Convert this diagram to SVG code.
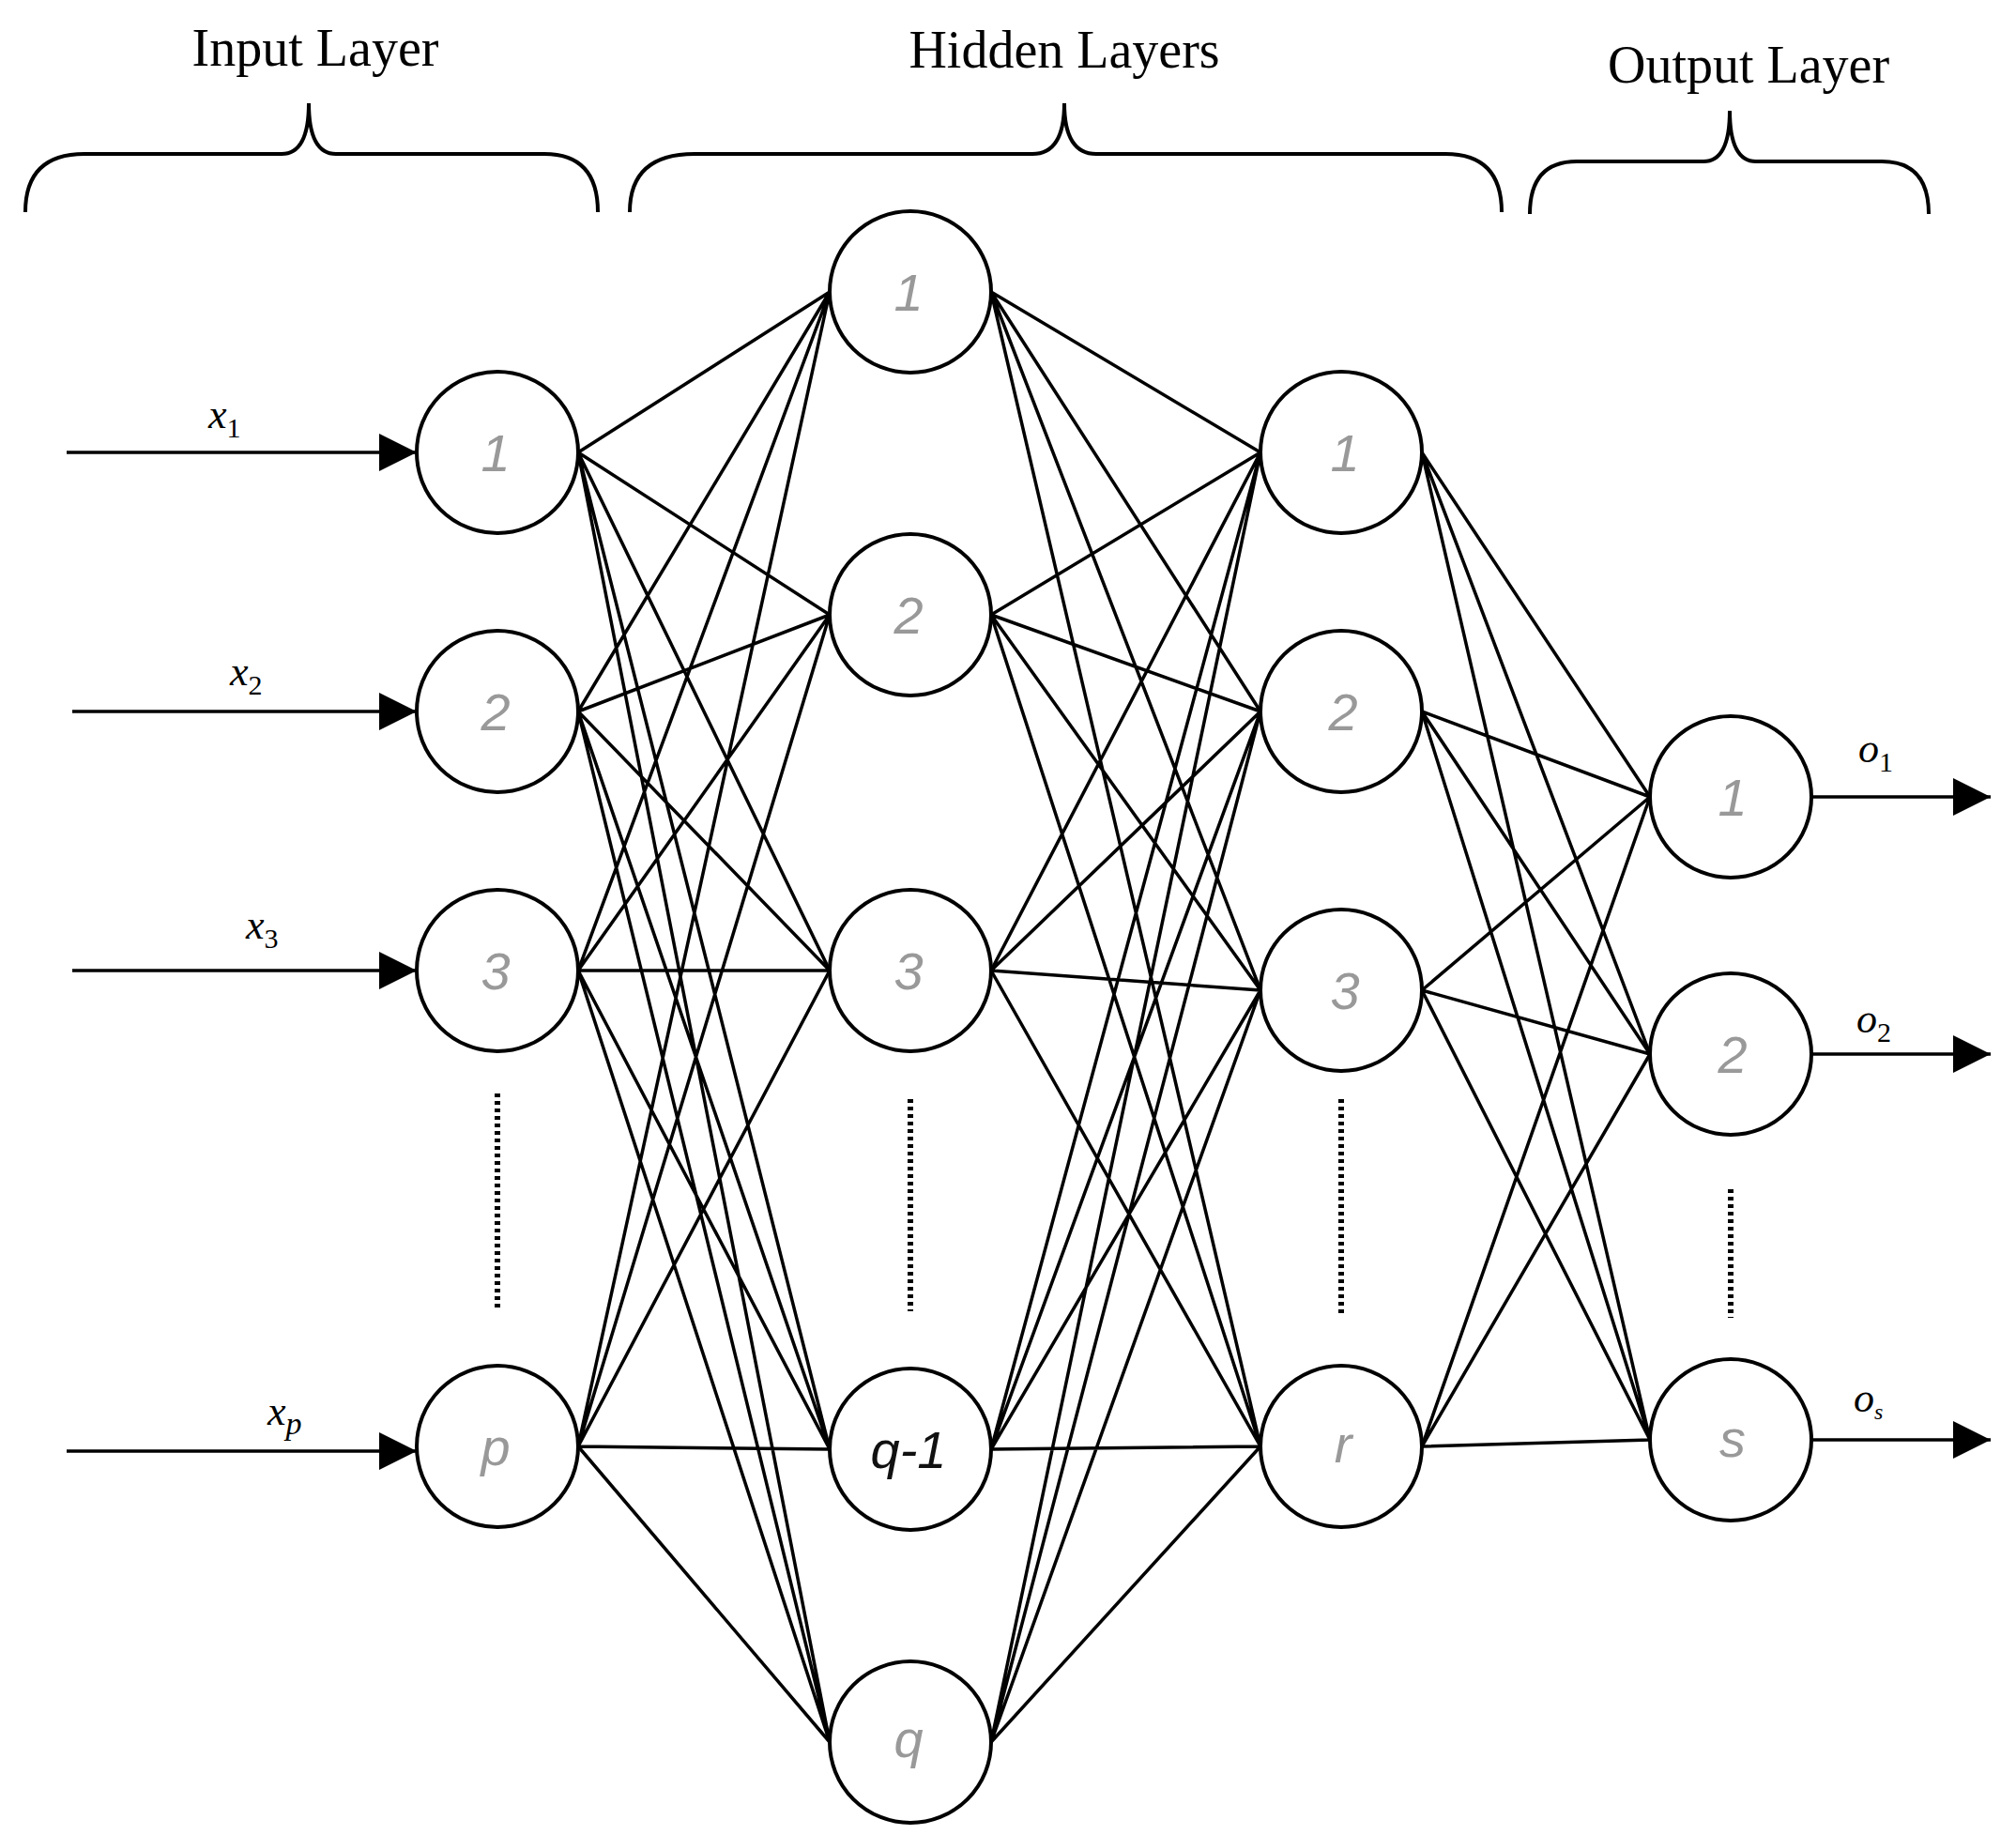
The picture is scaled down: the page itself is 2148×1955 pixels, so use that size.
<svg xmlns="http://www.w3.org/2000/svg" width="2148" height="1955" viewBox="0 0 2148 1955">
<style>
.n{fill:#fff;stroke:#000;stroke-width:4}
.e{stroke:#000;stroke-width:3.5;fill:none}
.lb{font-family:"Liberation Sans",Arial,sans-serif;font-style:italic;font-size:56px;fill:#999;text-anchor:middle}
.hd{font-family:"Liberation Serif","Times New Roman",serif;font-size:56px;fill:#000;text-anchor:middle}
.v{font-family:"Liberation Serif","Times New Roman",serif;font-style:italic;font-size:44px;fill:#000}
.d{stroke:#000;stroke-width:6;stroke-dasharray:4 4}
.b{stroke:#000;stroke-width:4;fill:none}
</style>
<defs><marker id="a" markerWidth="10" markerHeight="10" refX="9" refY="5" orient="auto" markerUnits="userSpaceOnUse" viewBox="0 0 10 10"><path d="M0,0L10,5L0,10z"/></marker>
<marker id="ar" viewBox="0 0 10 10" refX="10" refY="5" markerWidth="42" markerHeight="40" orient="auto" markerUnits="userSpaceOnUse"><path d="M0,0L10,5L0,10z"/></marker></defs>
<g id="braces">
<path class="b" d="M27,226 Q27,164 90,164 L300,164 Q329,164 329,110 Q329,164 358,164 L580,164 Q637,164 637,226"/>
<text class="hd" x="336" y="70">Input Layer</text>
<path class="b" d="M671,226 Q671,164 740,164 L1100,164 Q1134,164 1134,110 Q1134,164 1168,164 L1540,164 Q1600,164 1600,226"/>
<text class="hd" x="1134" y="72">Hidden Layers</text>
<path class="b" d="M1630,228 Q1630,172 1680,172 L1815,172 Q1843,172 1843,118 Q1843,172 1871,172 L2005,172 Q2055,172 2055,228"/>
<text class="hd" x="1863" y="88">Output Layer</text>
</g>
<g id="connectors">
<path class="e" d="M616,482L884,311M616,482L884,655M616,482L884,1034M616,482L884,1544M616,482L884,1856
M616,758L884,311M616,758L884,655M616,758L884,1034M616,758L884,1544M616,758L884,1856
M616,1034L884,311M616,1034L884,655M616,1034L884,1034M616,1034L884,1544M616,1034L884,1856
M616,1541L884,311M616,1541L884,655M616,1541L884,1034M616,1541L884,1544M616,1541L884,1856
M1056,311L1343,482M1056,311L1343,758M1056,311L1343,1055M1056,311L1343,1541
M1056,655L1343,482M1056,655L1343,758M1056,655L1343,1055M1056,655L1343,1541
M1056,1034L1343,482M1056,1034L1343,758M1056,1034L1343,1055M1056,1034L1343,1541
M1056,1544L1343,482M1056,1544L1343,758M1056,1544L1343,1055M1056,1544L1343,1541
M1056,1856L1343,482M1056,1856L1343,758M1056,1856L1343,1055M1056,1856L1343,1541
M1515,482L1758,849M1515,482L1758,1123M1515,482L1758,1534
M1515,758L1758,849M1515,758L1758,1123M1515,758L1758,1534
M1515,1055L1758,849M1515,1055L1758,1123M1515,1055L1758,1534
M1515,1541L1758,849M1515,1541L1758,1123M1515,1541L1758,1534"/>
<path class="e" marker-end="url(#ar)" d="M71,482L444,482"/>
<path class="e" marker-end="url(#ar)" d="M77,758L444,758"/>
<path class="e" marker-end="url(#ar)" d="M77,1034L444,1034"/>
<path class="e" marker-end="url(#ar)" d="M71,1546L444,1546"/>
<path class="e" marker-end="url(#ar)" d="M1930,849L2121,849"/>
<path class="e" marker-end="url(#ar)" d="M1930,1123L2121,1123"/>
<path class="e" marker-end="url(#ar)" d="M1930,1534L2121,1534"/>
<line class="d" x1="530" y1="1165" x2="530" y2="1397"/>
<line class="d" x1="970" y1="1171" x2="970" y2="1397"/>
<line class="d" x1="1429" y1="1171" x2="1429" y2="1400"/>
<line class="d" x1="1844" y1="1267" x2="1844" y2="1404"/>
</g>
<g id="labels">
<text class="v" x="222" y="456">x<tspan font-size="30" dy="10" font-style="normal">1</tspan></text>
<text class="v" x="245" y="730">x<tspan font-size="30" dy="10" font-style="normal">2</tspan></text>
<text class="v" x="262" y="1000">x<tspan font-size="30" dy="10" font-style="normal">3</tspan></text>
<text class="v" x="285" y="1518">x<tspan font-size="34" dy="10">p</tspan></text>
<text class="v" x="1980" y="812">o<tspan font-size="30" dy="10" font-style="normal">1</tspan></text>
<text class="v" x="1978" y="1100">o<tspan font-size="30" dy="10" font-style="normal">2</tspan></text>
<text class="v" x="1975" y="1504">o<tspan font-size="24" dy="8">s</tspan></text>
</g>
<g id="in1"><circle class="n" cx="530" cy="482" r="86"/><text class="lb" x="528" y="502">1</text></g>
<g id="in2"><circle class="n" cx="530" cy="758" r="86"/><text class="lb" x="528" y="778">2</text></g>
<g id="in3"><circle class="n" cx="530" cy="1034" r="86"/><text class="lb" x="528" y="1054">3</text></g>
<g id="inp"><circle class="n" cx="530" cy="1541" r="86"/><text class="lb" x="528" y="1561">p</text></g>
<g id="h1_1"><circle class="n" cx="970" cy="311" r="86"/><text class="lb" x="968" y="331">1</text></g>
<g id="h1_2"><circle class="n" cx="970" cy="655" r="86"/><text class="lb" x="968" y="675">2</text></g>
<g id="h1_3"><circle class="n" cx="970" cy="1034" r="86"/><text class="lb" x="968" y="1054">3</text></g>
<g id="h1_q1"><circle class="n" cx="970" cy="1544" r="86"/><text class="lb" x="968" y="1564" style="fill:#111">q-1</text></g>
<g id="h1_q"><circle class="n" cx="970" cy="1856" r="86"/><text class="lb" x="968" y="1872">q</text></g>
<g id="h2_1"><circle class="n" cx="1429" cy="482" r="86"/><text class="lb" x="1433" y="502">1</text></g>
<g id="h2_2"><circle class="n" cx="1429" cy="758" r="86"/><text class="lb" x="1431" y="778">2</text></g>
<g id="h2_3"><circle class="n" cx="1429" cy="1055" r="86"/><text class="lb" x="1433" y="1075">3</text></g>
<g id="h2_r"><circle class="n" cx="1429" cy="1541" r="86"/><text class="lb" x="1431" y="1558">r</text></g>
<g id="o1"><circle class="n" cx="1844" cy="849" r="86"/><text class="lb" x="1846" y="869">1</text></g>
<g id="o2"><circle class="n" cx="1844" cy="1123" r="86"/><text class="lb" x="1846" y="1143">2</text></g>
<g id="os"><circle class="n" cx="1844" cy="1534" r="86"/><text class="lb" x="1846" y="1552">s</text></g>
</svg>
